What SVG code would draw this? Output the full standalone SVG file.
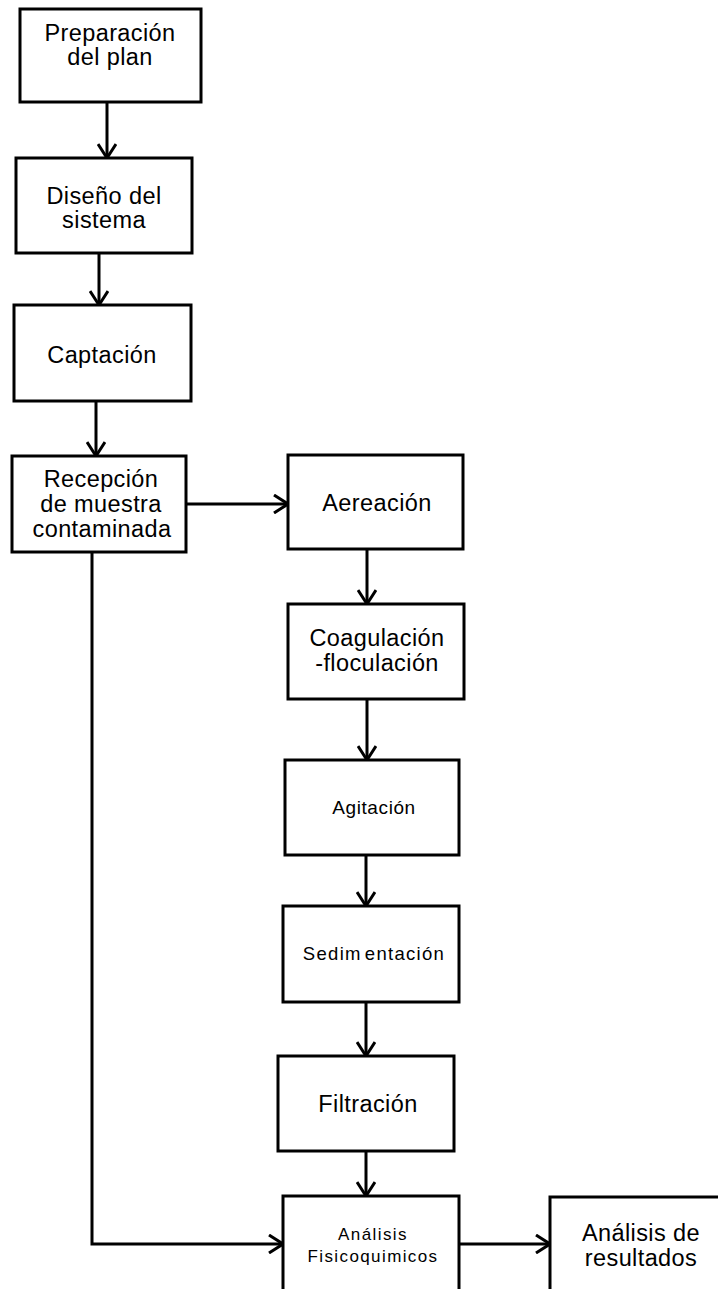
<svg xmlns="http://www.w3.org/2000/svg" width="718" height="1289" viewBox="0 0 718 1289">
<style>
rect{fill:#fff;stroke:#000;stroke-width:3}
text{font-family:"Liberation Sans",Arial,sans-serif;fill:#000;text-anchor:middle}
.t{font-size:23.5px;letter-spacing:0.4px}
.s{font-size:19px;letter-spacing:0.6px}
.m{font-size:18.5px;letter-spacing:1.3px}
.x{font-size:17px;letter-spacing:1.4px}
#connectors path{fill:none;stroke:#000;stroke-width:3;marker-end:url(#arr)}
</style>
<defs>
<marker id="arr" markerUnits="userSpaceOnUse" viewBox="0 0 16 20" refX="15" refY="10" markerWidth="16" markerHeight="20" orient="auto">
<path d="M1,1 L15,10 L1,19" fill="none" stroke="#000" stroke-width="3"/>
</marker>
</defs>
<g id="connectors">
<path d="M107,102 V158"/>
<path d="M99,253 V305"/>
<path d="M96,401 V456"/>
<path d="M186,504 H288"/>
<path d="M367,549 V604"/>
<path d="M367,699 V760"/>
<path d="M366,855 V906"/>
<path d="M366,1002 V1056"/>
<path d="M366,1151 V1196"/>
<path d="M92,552 V1244 H283"/>
<path d="M459,1244 H550"/>
</g>
<g id="n1"><rect x="20" y="9" width="181" height="93"/><text class="t" x="110" y="41">Preparación</text><text class="t" x="110" y="65">del plan</text></g>
<g id="n2"><rect x="16" y="158" width="176" height="95"/><text class="t" x="104" y="204">Diseño del</text><text class="t" x="104" y="228">sistema</text></g>
<g id="n3"><rect x="14" y="305" width="177" height="96"/><text class="t" x="102" y="363">Captación</text></g>
<g id="n4"><rect x="12" y="456" width="174" height="96"/><text class="t" x="101" y="487">Recepción</text><text class="t" x="101" y="512">de muestra</text><text class="t" x="102" y="537">contaminada</text></g>
<g id="n5"><rect x="288" y="455" width="175" height="94"/><text class="t" x="377" y="511">Aereación</text></g>
<g id="n6"><rect x="288" y="604" width="176" height="95"/><text class="t" x="377" y="646">Coagulación</text><text class="t" x="377" y="671">-floculación</text></g>
<g id="n7"><rect x="285" y="760" width="174" height="95"/><text class="s" x="374" y="814">Agitación</text></g>
<g id="n8"><rect x="283" y="906" width="176" height="96"/><text class="m" x="374" y="960">Sedim<tspan dx="3">entación</tspan></text></g>
<g id="n9"><rect x="278" y="1056" width="176" height="95"/><text class="t" x="368" y="1112">Filtración</text></g>
<g id="n10"><rect x="283" y="1196" width="176" height="120"/><text class="x" x="373" y="1240">Análisis</text><text class="x" x="373" y="1262">Fisicoquimicos</text></g>
<g id="n11"><rect x="550" y="1197" width="176" height="120"/><text class="t" x="641" y="1241">Análisis de</text><text class="t" x="641" y="1266">resultados</text></g>
</svg>
